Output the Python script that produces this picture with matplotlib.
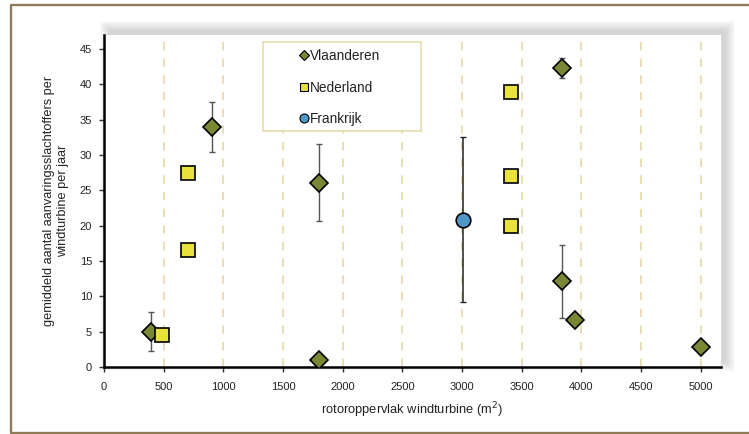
import matplotlib
matplotlib.use("Agg")
import matplotlib.pyplot as plt
from matplotlib.patches import Rectangle
from matplotlib.lines import Line2D

plt.rcParams['font.family'] = ['Liberation Sans', 'DejaVu Sans']

# Vlaanderen: rotor area, mean victims, lower/upper error
vl_x = [390, 905, 1800, 1800, 3840, 3840, 3945, 5005]
vl_y = [5.0, 34.0, 26.1, 1.0, 42.3, 12.2, 6.6, 2.8]
vl_lo = [2.8, 3.5, 5.4, 0, 1.4, 5.2, 0, 0]
vl_hi = [2.8, 3.5, 5.4, 0, 1.4, 5.1, 0, 0]

# Nederland
nl_x = [490, 705, 705, 3410, 3410, 3410]
nl_y = [4.5, 27.5, 16.5, 39.0, 27.0, 20.0]

# Frankrijk
fr_x = [3005]
fr_y = [20.8]
fr_lo = [11.6]
fr_hi = [11.7]

x_ticks = [0, 500, 1000, 1500, 2000, 2500, 3000, 3500, 4000, 4500, 5000]
y_ticks = [0, 5, 10, 15, 20, 25, 30, 35, 40, 45]

C_VL = '#7a8835'
C_NL = '#e8e23a'
C_FR = '#4f97c8'
C_GRID = '#e6d9a6'
TXT = '#222222'

W, H = 749, 434
fig = plt.figure(figsize=(W / 100, H / 100), dpi=100)
fig.patch.set_facecolor('white')

def px(x0, y0, x1, y1):
    # pixel box (top-left origin) -> figure fraction
    return [x0 / W, 1 - y1 / H, (x1 - x0) / W, (y1 - y0) / H]

def fline(xs, ys, **kw):
    fig.add_artist(Line2D([x / W for x in xs], [1 - y / H for y in ys],
                          transform=fig.transFigure, **kw))

# outer frame (open on the right)
fline([760, 10.5, 10.5, 760], [4.5, 4.5, 432.5, 432.5], color='#8f7b56', lw=1.7,
      zorder=-5)

# soft drop shadow behind the plot area
ax_box = px(104, 35, 721, 367)
for k in range(10):
    grow = k * 1.0
    fig.add_artist(Rectangle((ax_box[0] + (5 - grow) / W, ax_box[1] + (5 - grow) / H),
                             ax_box[2] + 2 * grow / W, ax_box[3] + 2 * grow / H,
                             transform=fig.transFigure, facecolor='#666666',
                             edgecolor='none', alpha=0.028, zorder=-4))

ax = fig.add_axes(ax_box)
ax.set_facecolor('white')
ax.set_xlim(0, 5170)
ax.set_ylim(0, 47)
ax.set_xticks(x_ticks)
ax.set_yticks(y_ticks)

for xv in x_ticks[1:]:
    ax.axvline(xv, color=C_GRID, lw=1.2, ls=(0, (5, 5)), zorder=0)

ax.errorbar(vl_x, vl_y, yerr=[vl_lo, vl_hi], fmt='none', ecolor='#555555',
            elinewidth=1, capsize=2, capthick=1, zorder=2)
ax.errorbar(fr_x, fr_y, yerr=[fr_lo, fr_hi], fmt='none', ecolor='#222222',
            elinewidth=1.1, capsize=2.3, capthick=1, zorder=2)

ax.plot(vl_x, vl_y, ls='none', marker='D', ms=9.3, mfc=C_VL, mec='black',
        mew=1.2, zorder=3)
ax.plot(nl_x, nl_y, ls='none', marker='s', ms=10.3, mfc=C_NL, mec='black',
        mew=1.2, zorder=3)
ax.plot(fr_x, fr_y, ls='none', marker='o', ms=10.5, mfc=C_FR, mec='black',
        mew=1.2, zorder=3)

for side in ['top', 'right']:
    ax.spines[side].set_visible(False)
for side in ['left', 'bottom']:
    ax.spines[side].set_linewidth(1.8)
    ax.spines[side].set_color('black')

ax.tick_params(axis='both', labelsize=8, labelcolor=TXT, length=3.5,
               width=1, color='#333333')
ax.tick_params(axis='y', pad=5)
ax.tick_params(axis='x', pad=7)

ax.set_xlabel('rotoroppervlak windturbine (m$^2$)', fontsize=9.3, color=TXT,
              labelpad=6)
ax.set_ylabel('gemiddeld aantal aanvaringsslachtoffers per\nwindturbine per jaar',
              fontsize=9.2, color=TXT, labelpad=8, linespacing=1.15)

# legend box with centred entries
lb = px(263, 42, 421, 131)
fig.add_artist(Rectangle((lb[0], lb[1]), lb[2], lb[3], transform=fig.transFigure,
                         facecolor='white', edgecolor=C_GRID, lw=1.1, zorder=5))
handles = [
    Line2D([], [], ls='none', marker='D', ms=5, mfc=C_VL, mec='black', mew=0.8),
    Line2D([], [], ls='none', marker='s', ms=6, mfc=C_NL, mec='black', mew=0.8),
    Line2D([], [], ls='none', marker='o', ms=6.5, mfc=C_FR, mec='black', mew=0.8),
]
leg = fig.legend(handles, ['Vlaanderen', 'Nederland', 'Frankrijk'],
                 loc='center', bbox_to_anchor=(lb[0] + lb[2] / 2 - 2 / W, lb[1] + lb[3] / 2 - 1 / H),
                 frameon=False, fontsize=9.8, handlelength=0.6, handletextpad=0.15,
                 labelspacing=1.3, borderpad=0)
leg.set_zorder(6)
for t in leg.get_texts():
    t.set_color(TXT)

fig.savefig('out.png', dpi=100)
